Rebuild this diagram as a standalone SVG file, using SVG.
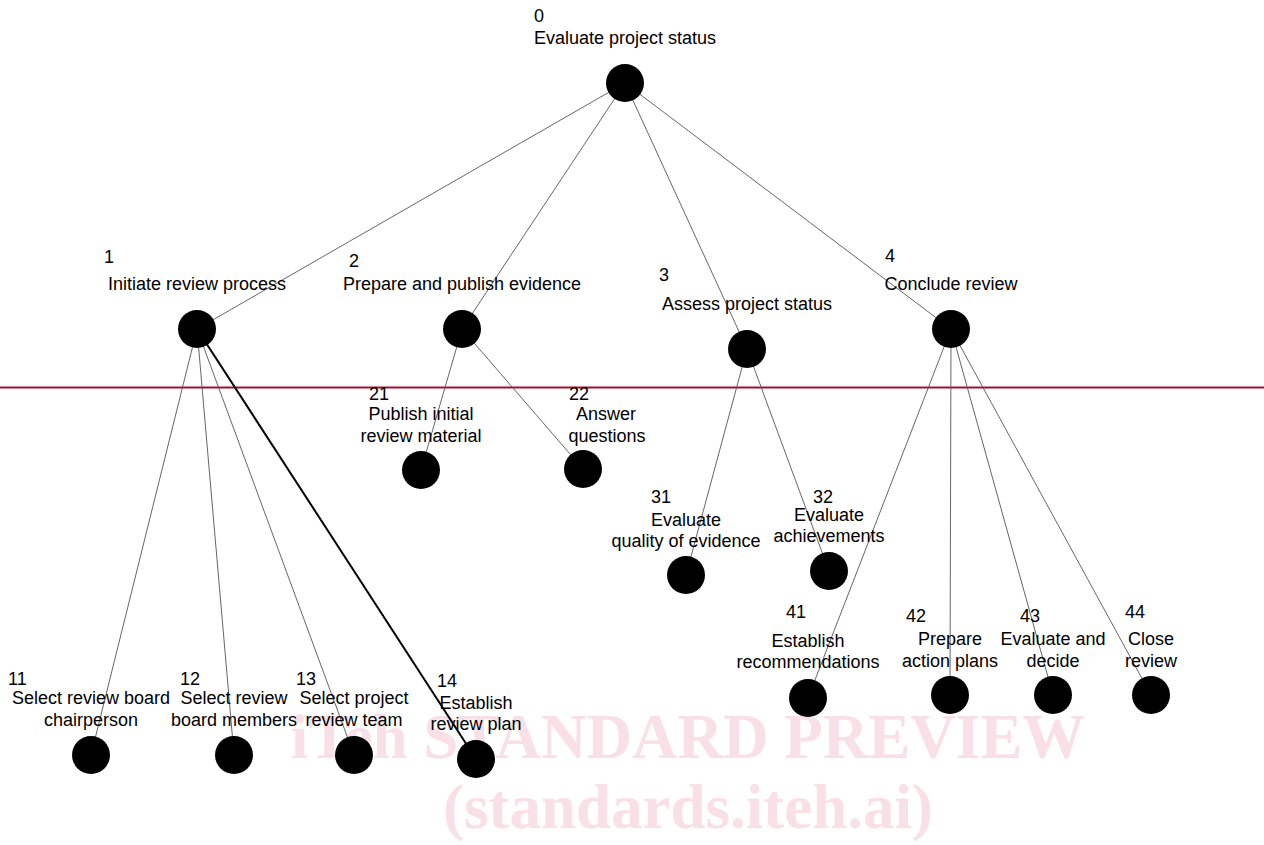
<svg xmlns="http://www.w3.org/2000/svg" width="1264" height="845" viewBox="0 0 1264 845">
<style>
.lbl{font-family:"Liberation Sans",Arial,sans-serif;font-size:18px;fill:#000}
.c{text-anchor:middle}
.node{fill:#000}
.e{stroke:#555;stroke-width:0.9;fill:none}
.eb{stroke:#000;stroke-width:2;fill:none}
.wm{font-family:"Liberation Serif","Times New Roman",serif;font-weight:bold;fill:#f9dfe6;text-anchor:middle}
</style>
<rect width="1264" height="845" fill="#fff"/>
<g id="watermark">
<text class="wm" x="688" y="758" font-size="63">iTeh STANDARD PREVIEW</text>
<text class="wm" x="688" y="828" font-size="63">(standards.iteh.ai)</text>
</g>
<line x1="0" y1="387.5" x2="1264" y2="387.5" stroke="#a3102e" stroke-width="2"/>
<g id="connectors">
<line class="e" x1="625" y1="83" x2="197" y2="329"/>
<line class="e" x1="625" y1="83" x2="462" y2="329"/>
<line class="e" x1="625" y1="83" x2="747" y2="349"/>
<line class="e" x1="625" y1="83" x2="951" y2="329"/>
<line class="e" x1="197" y1="329" x2="91" y2="755"/>
<line class="e" x1="197" y1="329" x2="234" y2="755"/>
<line class="e" x1="197" y1="329" x2="354" y2="755"/>
<line class="eb" x1="197" y1="329" x2="476" y2="759"/>
<line class="e" x1="462" y1="329" x2="421" y2="470"/>
<line class="e" x1="462" y1="329" x2="583" y2="469"/>
<line class="e" x1="747" y1="349" x2="686" y2="575"/>
<line class="e" x1="747" y1="349" x2="829" y2="571"/>
<line class="e" x1="951" y1="329" x2="808" y2="698"/>
<line class="e" x1="951" y1="329" x2="950" y2="695"/>
<line class="e" x1="951" y1="329" x2="1053" y2="695"/>
<line class="e" x1="951" y1="329" x2="1151" y2="695"/>
</g>
<g id="n0"><circle class="node" cx="625" cy="83" r="19"/><text class="lbl" x="534" y="22">0</text><text class="lbl c" x="625" y="44">Evaluate project status</text></g>
<g id="n1"><circle class="node" cx="197" cy="329" r="19"/><text class="lbl" x="104" y="263">1</text><text class="lbl c" x="197" y="290">Initiate review process</text></g>
<g id="n2"><circle class="node" cx="462" cy="329" r="19"/><text class="lbl" x="349" y="267">2</text><text class="lbl c" x="462" y="290">Prepare and publish evidence</text></g>
<g id="n3"><circle class="node" cx="747" cy="349" r="19"/><text class="lbl" x="659" y="281">3</text><text class="lbl c" x="747" y="310">Assess project status</text></g>
<g id="n4"><circle class="node" cx="951" cy="329" r="19"/><text class="lbl" x="885" y="262">4</text><text class="lbl c" x="951" y="290">Conclude review</text></g>
<g id="n11"><circle class="node" cx="91" cy="755" r="19"/><text class="lbl" x="8" y="685">11</text><text class="lbl c" x="91" y="704">Select review board</text><text class="lbl c" x="91" y="726">chairperson</text></g>
<g id="n12"><circle class="node" cx="234" cy="755" r="19"/><text class="lbl" x="180" y="685">12</text><text class="lbl c" x="234" y="704">Select review</text><text class="lbl c" x="234" y="726">board members</text></g>
<g id="n13"><circle class="node" cx="354" cy="755" r="19"/><text class="lbl" x="296" y="685">13</text><text class="lbl c" x="354" y="704">Select project</text><text class="lbl c" x="354" y="726">review team</text></g>
<g id="n14"><circle class="node" cx="476" cy="759" r="19"/><text class="lbl" x="437" y="687">14</text><text class="lbl c" x="476" y="709">Establish</text><text class="lbl c" x="476" y="730">review plan</text></g>
<g id="n21"><circle class="node" cx="421" cy="470" r="19"/><text class="lbl" x="369" y="400">21</text><text class="lbl c" x="421" y="420">Publish initial</text><text class="lbl c" x="421" y="442">review material</text></g>
<g id="n22"><circle class="node" cx="583" cy="469" r="19"/><text class="lbl" x="569" y="400">22</text><text class="lbl c" x="606" y="420">Answer</text><text class="lbl c" x="607" y="442">questions</text></g>
<g id="n31"><circle class="node" cx="686" cy="575" r="19"/><text class="lbl" x="651" y="503">31</text><text class="lbl c" x="686" y="526">Evaluate</text><text class="lbl c" x="686" y="547">quality of evidence</text></g>
<g id="n32"><circle class="node" cx="829" cy="571" r="19"/><text class="lbl" x="813" y="503">32</text><text class="lbl c" x="829" y="521">Evaluate</text><text class="lbl c" x="829" y="542">achievements</text></g>
<g id="n41"><circle class="node" cx="808" cy="698" r="19"/><text class="lbl" x="786" y="618">41</text><text class="lbl c" x="808" y="647">Establish</text><text class="lbl c" x="808" y="668">recommendations</text></g>
<g id="n42"><circle class="node" cx="950" cy="695" r="19"/><text class="lbl" x="906" y="622">42</text><text class="lbl c" x="950" y="645">Prepare</text><text class="lbl c" x="950" y="667">action plans</text></g>
<g id="n43"><circle class="node" cx="1053" cy="695" r="19"/><text class="lbl" x="1020" y="622">43</text><text class="lbl c" x="1053" y="645">Evaluate and</text><text class="lbl c" x="1053" y="667">decide</text></g>
<g id="n44"><circle class="node" cx="1151" cy="695" r="19"/><text class="lbl" x="1125" y="618">44</text><text class="lbl c" x="1151" y="645">Close</text><text class="lbl c" x="1151" y="667">review</text></g>
</svg>
